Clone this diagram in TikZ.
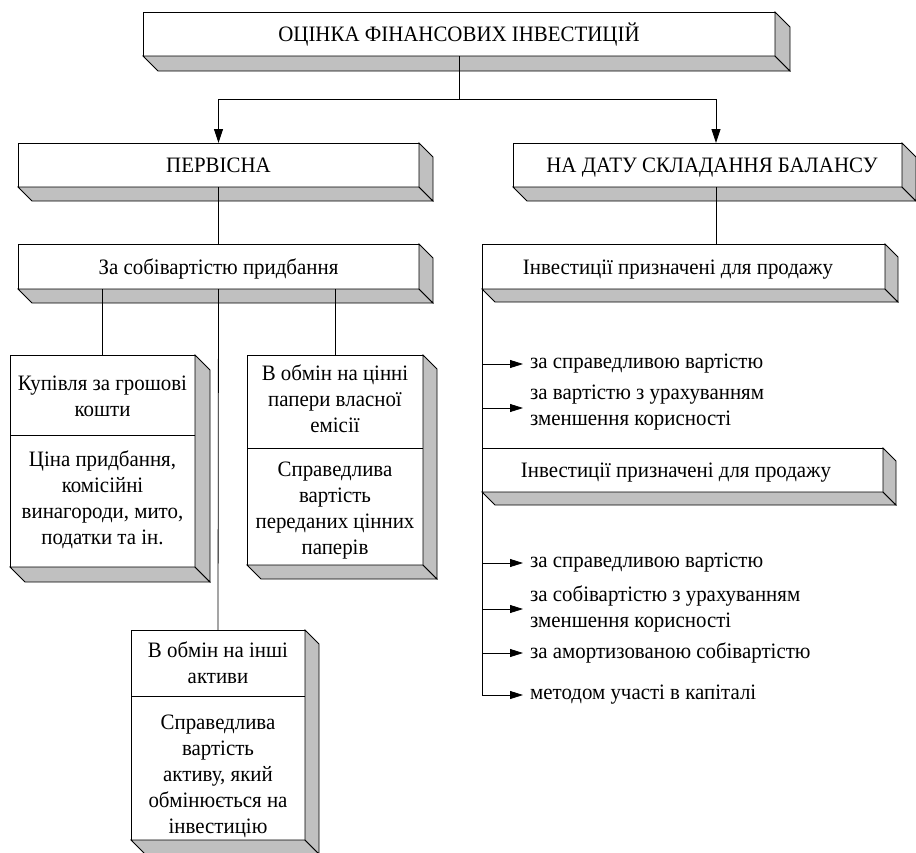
\documentclass[tikz,border=0pt]{standalone}
\usepackage{fontspec}
\setmainfont{Liberation Serif}[FakeStretch=0.95]
\usetikzlibrary{arrows.meta}
\definecolor{facegray}{RGB}{192,192,192}
\tikzset{
  frontbox/.style={draw=black, line width=0.8pt, fill=white, outer sep=0pt, inner sep=0pt},
  face/.style={fill=facegray, draw=black, line width=0.8pt, line join=miter},
  lbl/.style={font=\fontsize{22}{26}\selectfont, align=center, inner sep=0pt},
  one/.style={lbl, text height=15pt, text depth=0pt},
  item/.style={font=\fontsize{22}{26}\selectfont, align=left, anchor=west, inner sep=0pt, inner xsep=7pt},
  conn/.style={line width=0.8pt},
  darr/.style={line width=0.8pt, -{Triangle[length=14pt,width=9pt]}},
  sarr/.style={line width=0.8pt, -{Triangle[length=13pt,width=8pt]}}
}
\newcommand\depthfaces[2]{%
  \filldraw[face] (#1.south west) -- (#1.south east) -- ([shift={(#2,#2)}]#1.south east) -- ([shift={(#2,#2)}]#1.south west) -- cycle;
  \filldraw[face] (#1.north east) -- ([shift={(#2,#2)}]#1.north east) -- ([shift={(#2,#2)}]#1.south east) -- (#1.south east) -- cycle;
}
\begin{document}
\begin{tikzpicture}[x=1pt,y=-1pt]
\useasboundingbox (0,0) rectangle (916,852);

% main boxes
\node[frontbox, minimum width=632, minimum height=44] (top) at (459,34) {};
\node[one] (topT) at (459,34) {ОЦІНКА ФІНАНСОВИХ ІНВЕСТИЦІЙ};
\depthfaces{top}{15}

\node[frontbox, minimum width=401, minimum height=44] (perv) at (218.5,165) {};
\node[one] (pervT) at (218.5,165) {ПЕРВІСНА};
\depthfaces{perv}{14}

\node[frontbox, minimum width=389, minimum height=44] (bal) at (707.5,165) {};
\node[one] (balT) at (712,165) {НА ДАТУ СКЛАДАННЯ БАЛАНСУ};
\depthfaces{bal}{14}

\node[frontbox, minimum width=401, minimum height=45] (sob) at (218.5,266.5) {};
\node[one] (sobT) at (218.5,266.5) {За собівартістю придбання};
\depthfaces{sob}{14}

\node[frontbox, minimum width=403, minimum height=45] (inv1) at (683.5,266.5) {};
\node[one] (inv1T) at (678,266.5) {Інвестиції призначені для продажу};
\depthfaces{inv1}{13}

\node[frontbox, minimum width=401, minimum height=44] (inv2) at (682.5,470) {};
\node[one] (inv2T) at (676,470) {Інвестиції призначені для продажу};
\depthfaces{inv2}{13}

% two-part boxes
\node[frontbox, minimum width=185, minimum height=212] (kup) at (102.5,461) {};
\depthfaces{kup}{15}
\coordinate (kupD) at (102.5,435);
\draw[conn] (kup.west |- kupD) -- (kup.east |- kupD);
\node[lbl] (kupT) at (102.5,396) {Купівля за грошові\\кошти};
\node[lbl] (kupB) at (102.5,500) {Ціна придбання,\\комісійні\\винагороди, мито,\\податки та ін.};

\node[frontbox, minimum width=176, minimum height=210] (obm1) at (335,460) {};
\depthfaces{obm1}{14}
\coordinate (obm1D) at (335,448);
\draw[conn] (obm1.west |- obm1D) -- (obm1.east |- obm1D);
\node[lbl] (obm1T) at (335,399) {В обмін на  цінні\\папери власної\\емісії};
\node[lbl] (obm1B) at (335,511) {Справедлива\\вартість\\переданих цінних\\паперів};

\node[frontbox, minimum width=174, minimum height=210] (obm2) at (218,735) {};
\depthfaces{obm2}{14}
\coordinate (obm2D) at (218,696);
\draw[conn] (obm2.west |- obm2D) -- (obm2.east |- obm2D);
\node[lbl] (obm2T) at (218,663) {В обмін на інші\\активи};
\node[lbl] (obm2B) at (218,776) {Справедлива\\вартість\\активу, який\\обмінюється на\\інвестицію};

% connectors top
\coordinate (hub) at (459,99);
\draw[conn] (top.south) -- (hub);
\draw[darr] (hub) -| (perv.north);
\draw[darr] (hub) -| ([xshift=8.5pt]bal.north);

% left tree
\draw[conn] (perv.south) -- (sob.north);
\draw[conn] (kup.north |- sob.south) -- (kup.north);
\draw[conn] (obm1.north |- sob.south) -- (obm1.north);
\draw[conn] (sob.south) -- (obm2.north);

% right tree
\draw[conn] ([xshift=8.5pt]bal.south) -- ([xshift=8.5pt]bal.south |- inv1.north);

\node[item] (r1) at (523,364) {за справедливою вартістю};
\node[item] (r2) at (523,408) {за вартістю з урахуванням\\зменшення корисності};
\node[item] (r3) at (523,563) {за справедливою вартістю};
\node[item] (r4) at (523,609) {за собівартістю з урахуванням\\зменшення корисності};
\node[item] (r5) at (523,653) {за амортизованою собівартістю};
\node[item] (r6) at (523,695) {методом участі в капіталі};

\draw[conn] (inv1.south west) -- (inv1.south west |- r6.west);
\foreach \r in {r1,r2,r3,r4,r5,r6}
  \draw[sarr] (inv1.south west |- \r.west) -- (\r.west);
\end{tikzpicture}
\end{document}
